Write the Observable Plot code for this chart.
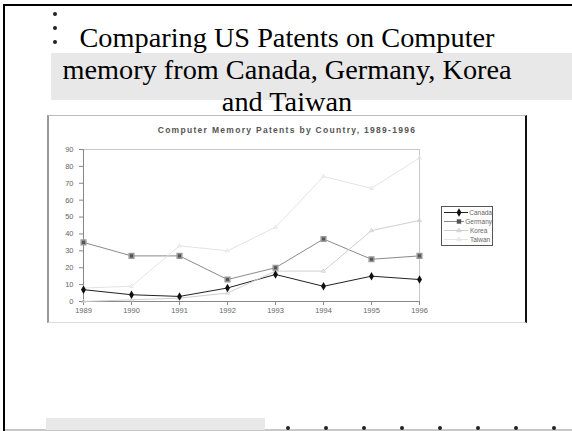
<!DOCTYPE html>
<html>
<head>
<meta charset="utf-8">
<script src="https://cdn.jsdelivr.net/npm/d3@7"></script>
<script src="https://cdn.jsdelivr.net/npm/@observablehq/plot@0.6"></script>
<style>
  html, body { margin: 0; padding: 0; background: #fff; }
  body { width: 572px; height: 431px; position: relative; overflow: hidden; }
  .abs { position: absolute; }
  .slidetitle { font-family: "Liberation Serif", "Times New Roman", serif; font-size: 28.3px; line-height: 32px; color: #000; text-align: center; left: 0; width: 574px; white-space: nowrap; }
  .dot { position: absolute; width: 4px; height: 4px; border-radius: 50%; background: #222; }
  #chart svg { display: block; }
  .legend { font-family: "Liberation Sans", Arial, sans-serif; font-size: 6.5px; color: #666; }
</style>
</head>
<body>
<!-- slide frame -->
<div class="abs" style="left:3px;top:4px;width:569px;height:2px;background:#000"></div>
<div class="abs" style="left:3px;top:4px;width:2px;height:427px;background:#000"></div>
<div class="abs" style="left:5px;top:429px;width:567px;height:2px;background:#c8c8c8"></div>
<div class="abs" style="left:51px;top:53px;width:521px;height:47px;background:#e8e8e8"></div>
<div class="abs" style="left:46px;top:418px;width:219px;height:12px;background:#e8e8e8"></div>
<div class="dot" style="left:53px;top:12px"></div>
<div class="dot" style="left:53px;top:26px"></div>
<div class="dot" style="left:53px;top:40px"></div>
<div id="bdots"></div>

<div class="abs slidetitle" style="top:22px">Comparing US Patents on Computer</div>
<div class="abs slidetitle" style="top:54px">memory from Canada, Germany, Korea</div>
<div class="abs slidetitle" style="top:86px">and Taiwan</div>

<!-- chart image -->
<div class="abs" style="left:47px;top:115px;width:480px;height:208px;background:#fff;border-top:1px solid #bbb;border-left:2px solid #999;border-right:2px solid #111;border-bottom:1px solid #ddd;box-sizing:border-box"></div>
<div id="chart" class="abs" style="left:47px;top:115px"></div>
<div class="abs" style="left:47px;top:125px;width:480px;text-align:center;font-family:'Liberation Sans',Arial,sans-serif;font-weight:bold;font-size:8.5px;letter-spacing:1.3px;color:#555;white-space:nowrap">Computer Memory Patents by Country, 1989-1996</div>
<div id="legend" class="abs legend" style="left:441px;top:206px;width:52px;height:40px;border:1px solid #555;box-sizing:border-box;background:#fff"></div>

<script>
const years = [1989, 1990, 1991, 1992, 1993, 1994, 1995, 1996];
const countries = ["Canada", "Germany", "Korea", "Taiwan"];
const canada  = [7, 4, 3, 8, 16, 9, 15, 13];
const germany = [35, 27, 27, 13, 20, 37, 25, 27];
const korea   = [0, 1, 2, 5, 18, 18, 42, 48];
const taiwan  = [8, 9, 33, 30, 44, 74, 67, 85];
const yTicks = [0, 10, 20, 30, 40, 50, 60, 70, 80, 90];

const series = [canada, germany, korea, taiwan];
const colors = ["#222", "#8a8a8a", "#cfcfcf", "#e4e4e4"];
const rows = [];
series.forEach((vals, i) => years.forEach((yr, j) => rows.push({year: yr, value: vals[j], country: countries[i]})));

const plot = Plot.plot({
  width: 480,
  height: 208,
  marginLeft: 36,
  marginRight: 108,
  marginTop: 34,
  marginBottom: 22,
  style: {fontFamily: "Liberation Sans, Arial, sans-serif", fontSize: "7.5px", color: "#666", background: "transparent"},
  x: {domain: [1989, 1996]},
  y: {domain: [0, 90]},
  color: {domain: countries, range: colors},
  marks: [
    Plot.frame({stroke: "#c8c8c8"}),
    Plot.axisX({ticks: years, tickFormat: d3.format("d"), tickSize: 4, tickPadding: 2, label: null, stroke: "#888"}),
    Plot.axisY({ticks: yTicks, tickSize: 4, tickPadding: 6, label: null, stroke: "#888"}),
    Plot.ruleY([0], {stroke: "#888"}),
    Plot.ruleX([years[0]], {stroke: "#888"}),
    Plot.line(rows, {x: "year", y: "value", z: "country", stroke: "country", strokeWidth: 1}),
    Plot.dot(rows.filter(d => d.country === "Korea" || d.country === "Taiwan"), {x: "year", y: "value", stroke: "country", symbol: "triangle", r: 1.5, strokeWidth: 0.8}),
    Plot.dot(rows.filter(d => d.country === "Germany"), {x: "year", y: "value", symbol: "square", fill: "#555", stroke: "#999", r: 2.6}),
    Plot.dot(rows.filter(d => d.country === "Canada"), {x: "year", y: "value", symbol: "diamond", fill: "#111", r: 2.6})
  ]
});
document.getElementById("chart").appendChild(plot);

// legend
const leg = document.getElementById("legend");
const markers = ["diamond", "square", "triangle", "triangle"];
countries.forEach((c, i) => {
  const row = document.createElement("div");
  row.style.cssText = "display:flex;align-items:center;height:9px;margin-left:1px;" + (i === 0 ? "margin-top:1px" : "");
  const sw = d3.create("svg").attr("width", 26).attr("height", 9);
  sw.append("line").attr("x1", 1).attr("x2", 25).attr("y1", 4.5).attr("y2", 4.5).attr("stroke", colors[i]);
  const sym = {diamond: d3.symbolDiamond, square: d3.symbolSquare, triangle: d3.symbolTriangle}[markers[i]];
  sw.append("path").attr("transform", "translate(16,4.5)").attr("d", d3.symbol(sym, i < 2 ? 20 : 8)())
    .attr("fill", i === 0 ? "#111" : i === 1 ? "#555" : "none").attr("stroke", i < 2 ? "none" : colors[i]);
  row.appendChild(sw.node());
  const t = document.createElement("span");
  t.textContent = c;
  t.style.marginLeft = "1px";
  row.appendChild(t);
  leg.appendChild(row);
});

// bottom placeholder dots
const bd = document.getElementById("bdots");
for (let k = 0; k < 8; k++) {
  const d = document.createElement("div");
  d.className = "dot";
  d.style.left = (286 + 38 * k) + "px";
  d.style.top = "426px";
  bd.appendChild(d);
}
</script>
</body>
</html>
